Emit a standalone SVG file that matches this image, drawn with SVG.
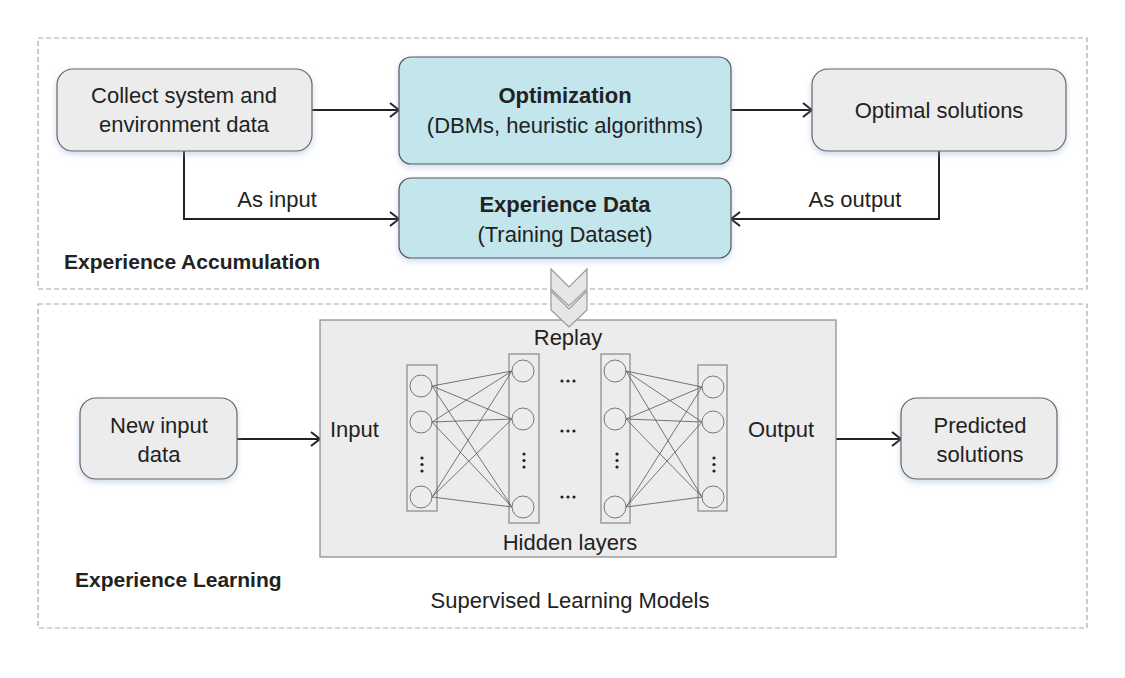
<svg xmlns="http://www.w3.org/2000/svg" width="1125" height="678" viewBox="0 0 1125 678">
<defs>
<style>
text{font-family:"Liberation Sans",Arial,sans-serif;font-size:22px;fill:#222;}
.b{font-weight:bold;}
.t{font-weight:bold;font-size:21px;}
.c{text-anchor:middle;}
.dash{fill:none;stroke:#a8a8a8;stroke-width:1.2;stroke-dasharray:5 3;}
.gbox{fill:#ececec;stroke:#666;stroke-width:1.2;}
.cbox{fill:#c3e5ec;stroke:#555;stroke-width:1.2;}
.conn{fill:none;stroke:#222;stroke-width:2;}
.lay{fill:none;stroke:#888;stroke-width:1.2;}
.nd{fill:none;stroke:#777;stroke-width:1;}
.w{stroke:#555;stroke-width:0.8;}
.chev{fill:#e6e6e6;stroke:#999;stroke-width:1.2;}
</style>
<filter id="sh" x="-10%" y="-10%" width="120%" height="130%">
<feDropShadow dx="0" dy="3" stdDeviation="3" flood-color="#8fb0d8" flood-opacity="0.45"/>
</filter>
<marker id="ah" markerUnits="userSpaceOnUse" markerWidth="12" markerHeight="16" refX="10" refY="8" orient="auto">
<path d="M1,1 L10,8 L1,15" fill="none" stroke="#222" stroke-width="2"/>
</marker>
</defs>
<rect width="1125" height="678" fill="#fff"/>

<g id="accumulation-region">
<rect class="dash" x="38" y="38" width="1049" height="251"/>
<text class="t" x="64" y="269">Experience Accumulation</text>
</g>
<g id="learning-region">
<rect class="dash" x="38" y="304" width="1049" height="324"/>
<text class="t" x="75" y="587">Experience Learning</text>
<text class="c" x="570" y="608">Supervised Learning Models</text>
</g>

<g id="connectors">
<line class="conn" x1="312" y1="110" x2="399" y2="110" marker-end="url(#ah)"/>
<path class="conn" d="M184,151 V219 H399" marker-end="url(#ah)"/>
<line class="conn" x1="731" y1="110" x2="812" y2="110" marker-end="url(#ah)"/>
<path class="conn" d="M939,151 V219 H731" marker-end="url(#ah)"/>
<line class="conn" x1="237" y1="439" x2="320" y2="439" marker-end="url(#ah)"/>
<line class="conn" x1="836" y1="439" x2="901" y2="439" marker-end="url(#ah)"/>
<text class="c" x="277" y="207">As input</text>
<text class="c" x="855" y="207">As output</text>
</g>

<g id="collect">
<rect class="gbox" filter="url(#sh)" x="57" y="69" width="255" height="82" rx="16"/>
<text class="c" x="184" y="103">Collect system and</text>
<text class="c" x="184" y="132">environment data</text>
</g>
<g id="optimization">
<rect class="cbox" filter="url(#sh)" x="399" y="57" width="332" height="107" rx="12"/>
<text class="c b" x="565" y="103">Optimization</text>
<text class="c" x="565" y="133">(DBMs, heuristic algorithms)</text>
</g>
<g id="optimal">
<rect class="gbox" filter="url(#sh)" x="812" y="69" width="254" height="82" rx="16"/>
<text class="c" x="939" y="118">Optimal solutions</text>
</g>
<g id="experience-data">
<rect class="cbox" filter="url(#sh)" x="399" y="178" width="332" height="80" rx="12"/>
<text class="c b" x="565" y="212">Experience Data</text>
<text class="c" x="565" y="242">(Training Dataset)</text>
</g>

<g id="model">
<rect x="320" y="320" width="516" height="237" fill="#ececec" stroke="#888" stroke-width="1.2"/>
<text class="c" x="568" y="345">Replay</text>
<text x="330" y="437">Input</text>
<text x="748" y="437">Output</text>
<text class="c" x="570" y="550">Hidden layers</text>
<!-- layer rects -->
<rect class="lay" x="407" y="365" width="30" height="146"/>
<rect class="lay" x="509" y="354" width="30" height="169"/>
<rect class="lay" x="601" y="354" width="29" height="169"/>
<rect class="lay" x="698" y="365" width="29" height="146"/>
<!-- weights layer1->2 -->
<g class="w">
<line x1="432" y1="386" x2="512" y2="371"/><line x1="432" y1="386" x2="512" y2="419"/><line x1="432" y1="386" x2="512" y2="507"/>
<line x1="432" y1="422" x2="512" y2="371"/><line x1="432" y1="422" x2="512" y2="419"/><line x1="432" y1="422" x2="512" y2="507"/>
<line x1="432" y1="497" x2="512" y2="371"/><line x1="432" y1="497" x2="512" y2="419"/><line x1="432" y1="497" x2="512" y2="507"/>
<line x1="626" y1="371" x2="702" y2="387"/><line x1="626" y1="371" x2="702" y2="422"/><line x1="626" y1="371" x2="702" y2="497"/>
<line x1="626" y1="419" x2="702" y2="387"/><line x1="626" y1="419" x2="702" y2="422"/><line x1="626" y1="419" x2="702" y2="497"/>
<line x1="626" y1="507" x2="702" y2="387"/><line x1="626" y1="507" x2="702" y2="422"/><line x1="626" y1="507" x2="702" y2="497"/>
</g>
<g class="nd">
<circle cx="421" cy="386" r="11"/><circle cx="421" cy="422" r="11"/><circle cx="421" cy="497" r="11"/>
<circle cx="523" cy="371" r="11"/><circle cx="523" cy="419" r="11"/><circle cx="523" cy="507" r="11"/>
<circle cx="615" cy="371" r="11"/><circle cx="615" cy="419" r="11"/><circle cx="615" cy="507" r="11"/>
<circle cx="713" cy="387" r="11"/><circle cx="713" cy="422" r="11"/><circle cx="713" cy="497" r="11"/>
</g>
<g fill="#222">
<circle cx="422" cy="458" r="1.6"/><circle cx="422" cy="464.5" r="1.6"/><circle cx="422" cy="471" r="1.6"/>
<circle cx="524" cy="454" r="1.6"/><circle cx="524" cy="460.5" r="1.6"/><circle cx="524" cy="467" r="1.6"/>
<circle cx="617" cy="454" r="1.6"/><circle cx="617" cy="460.5" r="1.6"/><circle cx="617" cy="467" r="1.6"/>
<circle cx="714" cy="458" r="1.6"/><circle cx="714" cy="464.5" r="1.6"/><circle cx="714" cy="471" r="1.6"/>
<circle cx="562" cy="381" r="1.6"/><circle cx="568" cy="381" r="1.6"/><circle cx="574" cy="381" r="1.6"/>
<circle cx="562" cy="431" r="1.6"/><circle cx="568" cy="431" r="1.6"/><circle cx="574" cy="431" r="1.6"/>
<circle cx="562" cy="497" r="1.6"/><circle cx="568" cy="497" r="1.6"/><circle cx="574" cy="497" r="1.6"/>
</g>
</g>

<g id="chevrons">
<polygon class="chev" points="551,269 569,287 587,269 587,289 569,306 551,289"/>
<polygon class="chev" points="551,291 569,309 587,291 587,310 569,327 551,310"/>
</g>

<g id="new-input">
<rect class="gbox" filter="url(#sh)" x="80" y="398" width="157" height="81" rx="16"/>
<text class="c" x="159" y="433">New input</text>
<text class="c" x="159" y="462">data</text>
</g>
<g id="predicted">
<rect class="gbox" filter="url(#sh)" x="901" y="398" width="156" height="81" rx="16"/>
<text class="c" x="980" y="433">Predicted</text>
<text class="c" x="980" y="462">solutions</text>
</g>
</svg>
